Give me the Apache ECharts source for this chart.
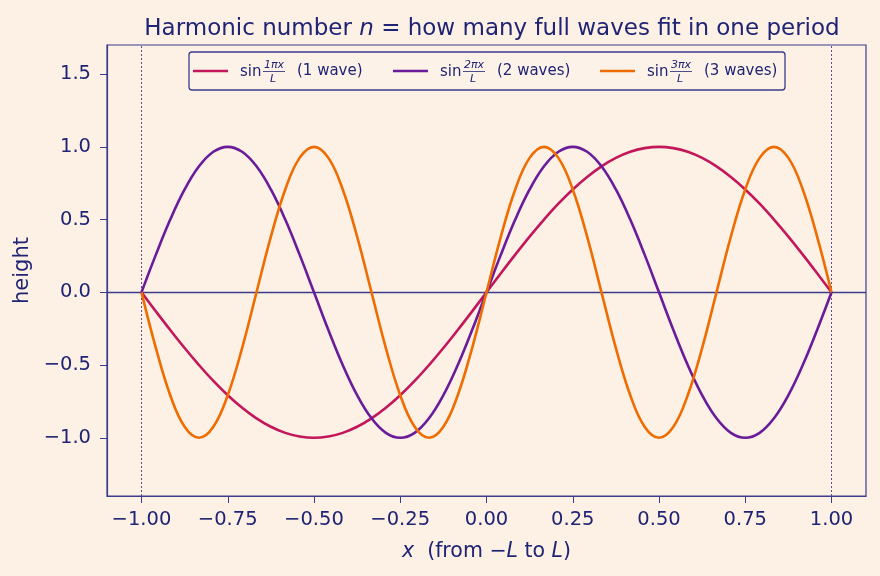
<!DOCTYPE html>
<html>
<head>
<meta charset="utf-8">
<script src="https://cdn.jsdelivr.net/npm/echarts@6/dist/echarts.min.js"></script>
<style>
  html, body { margin: 0; padding: 0; background: #fdf0e4; }
  #chart-container { width: 880px; height: 576px; }
</style>
</head>
<body>
<div id="chart-container"></div>
<script>
var dom = document.getElementById("chart-container");
var myChart = echarts.init(dom, null, { renderer: "canvas" });

// sample positions x (in units of L)
const xs = [
  -1, -0.9583, -0.9167, -0.875, -0.8333, -0.7917, -0.75, -0.7083, -0.6667, -0.625,
  -0.5833, -0.5417, -0.5, -0.4583, -0.4167, -0.375, -0.3333, -0.2917, -0.25, -0.2083,
  -0.1667, -0.125, -0.0833, -0.0417, 0, 0.0417, 0.0833, 0.125, 0.1667, 0.2083,
  0.25, 0.2917, 0.3333, 0.375, 0.4167, 0.4583, 0.5, 0.5417, 0.5833, 0.625,
  0.6667, 0.7083, 0.75, 0.7917, 0.8333, 0.875, 0.9167, 0.9583, 1,
];

const wave1 = [
  0, -0.131, -0.259, -0.383, -0.5, -0.609, -0.707, -0.793, -0.866, -0.924,
  -0.966, -0.991, -1, -0.991, -0.966, -0.924, -0.866, -0.793, -0.707, -0.609,
  -0.5, -0.383, -0.259, -0.131, 0, 0.131, 0.259, 0.383, 0.5, 0.609,
  0.707, 0.793, 0.866, 0.924, 0.966, 0.991, 1, 0.991, 0.966, 0.924,
  0.866, 0.793, 0.707, 0.609, 0.5, 0.383, 0.259, 0.131, 0,
];

const wave2 = [
  0, 0.259, 0.5, 0.707, 0.866, 0.966, 1, 0.966, 0.866, 0.707,
  0.5, 0.259, 0, -0.259, -0.5, -0.707, -0.866, -0.966, -1, -0.966,
  -0.866, -0.707, -0.5, -0.259, 0, 0.259, 0.5, 0.707, 0.866, 0.966,
  1, 0.966, 0.866, 0.707, 0.5, 0.259, 0, -0.259, -0.5, -0.707,
  -0.866, -0.966, -1, -0.966, -0.866, -0.707, -0.5, -0.259, 0,
];

const wave3 = [
  0, -0.383, -0.707, -0.924, -1, -0.924, -0.707, -0.383, 0, 0.383,
  0.707, 0.924, 1, 0.924, 0.707, 0.383, 0, -0.383, -0.707, -0.924,
  -1, -0.924, -0.707, -0.383, 0, 0.383, 0.707, 0.924, 1, 0.924,
  0.707, 0.383, 0, -0.383, -0.707, -0.924, -1, -0.924, -0.707, -0.383,
  0, 0.383, 0.707, 0.924, 1, 0.924, 0.707, 0.383, 0,
];

const harmonics = ["1", "2", "3"];
const waveLabels = ["(1 wave)", "(2 waves)", "(3 waves)"];
const xTicks = [-1, -0.75, -0.5, -0.25, 0, 0.25, 0.5, 0.75, 1];
const yTicks = [-1, -0.5, 0, 0.5, 1, 1.5];

const colors = ["#c2185b", "#6a1b9a", "#ef6c00"];
const ink = "#1f2474";
const spine = "#3b3d8c";
const font = "DejaVu Sans";

const allWaves = [wave1, wave2, wave3];

function fmtNum(v, d) {
  return v.toFixed(d).replace("-", "\u2212");
}

// hand-built legend with stacked fractions
const legendStarts = [193, 393, 600];
const legendY = 71;
const legendItems = [
  {
    type: "rect",
    z: 100,
    shape: { x: 189, y: 52, width: 596, height: 38, r: 3 },
    style: { fill: "rgba(253,242,232,0.8)", stroke: spine, lineWidth: 1.3 },
  },
];
harmonics.forEach(function (n, i) {
  const x0 = legendStarts[i];
  legendItems.push(
    {
      type: "line",
      shape: { x1: x0, y1: legendY, x2: x0 + 35, y2: legendY },
      style: { stroke: colors[i], lineWidth: 2.6 },
    },
    {
      type: "text",
      style: {
        x: x0 + 47, y: legendY + 1, text: "sin",
        font: "15px " + font, fill: ink, verticalAlign: "middle",
      },
    },
    {
      type: "text",
      style: {
        x: x0 + 81, y: legendY - 5.5, text: n + "\u03c0x",
        font: "italic 11px " + font, fill: ink,
        align: "center", verticalAlign: "middle",
      },
    },
    {
      type: "line",
      shape: { x1: x0 + 70, y1: legendY + 0.5, x2: x0 + 92, y2: legendY + 0.5 },
      style: { stroke: ink, lineWidth: 0.8 },
    },
    {
      type: "text",
      style: {
        x: x0 + 80, y: legendY + 8.5, text: "L",
        font: "italic 11px " + font, fill: ink,
        align: "center", verticalAlign: "middle",
      },
    },
    {
      type: "text",
      style: {
        x: x0 + 104, y: legendY, text: waveLabels[i],
        font: "15px " + font, fill: ink, verticalAlign: "middle",
      },
    }
  );
});
legendItems.forEach(function (el, k) {
  if (k > 0) el.z = 101;
});

const series = allWaves.map(function (w, i) {
  return {
    name: "n=" + harmonics[i],
    type: "line",
    data: xs.map(function (x, k) { return [x, w[k]]; }),
    smooth: 0.4,
    symbol: "none",
    z: 3,
    lineStyle: { color: colors[i], width: 2.6 },
  };
});

series[0].markLine = {
  silent: true,
  symbol: "none",
  label: { show: false },
  z: 2,
  data: [
    { xAxis: -1, lineStyle: { color: "#5b4d8f", type: [2, 2], width: 1 } },
    { xAxis: 1, lineStyle: { color: "#5b4d8f", type: [2, 2], width: 1 } },
    { yAxis: 0, lineStyle: { color: spine, type: "solid", width: 1.3 } },
  ],
};

var option = {
  backgroundColor: "#fdf0e4",
  animation: false,
  textStyle: { fontFamily: font },
  title: {
    text: "Harmonic number {i|n} = how many full waves fit in one period",
    left: 487,
    top: 13,
    textAlign: "center",
    textStyle: {
      color: ink,
      fontSize: 23,
      fontWeight: "normal",
      fontFamily: font,
      rich: {
        i: { fontStyle: "italic", fontSize: 23, color: ink, fontFamily: font },
      },
    },
  },
  grid: {
    left: 107,
    right: 14,
    top: 45,
    bottom: 80,
    show: true,
    borderColor: spine,
    borderWidth: 1.2,
    backgroundColor: "transparent",
  },
  xAxis: {
    type: "value",
    min: -1.1,
    max: 1.1,
    name: "{i|x}  (from \u2212{i|L} to {i|L})",
    nameLocation: "middle",
    nameGap: 45,
    nameTextStyle: {
      color: ink,
      fontSize: 20.5,
      fontFamily: font,
      rich: { i: { fontStyle: "italic", fontSize: 20.5, color: ink, fontFamily: font } },
    },
    axisLine: { show: true, onZero: false, lineStyle: { color: spine, width: 1.2 } },
    axisTick: { show: true, length: 7, customValues: xTicks, lineStyle: { color: spine } },
    axisLabel: {
      customValues: xTicks,
      color: ink,
      fontSize: 19.5,
      margin: 14,
      formatter: function (v) { return fmtNum(v, 2); },
    },
    splitLine: { show: false },
  },
  yAxis: {
    type: "value",
    min: -1.4,
    max: 1.7,
    name: "height",
    nameLocation: "middle",
    nameGap: 71,
    nameTextStyle: { color: ink, fontSize: 21, fontFamily: font },
    axisLine: { show: true, onZero: false, lineStyle: { color: spine, width: 1.2 } },
    axisTick: { show: true, length: 7, customValues: yTicks, lineStyle: { color: spine } },
    axisLabel: {
      customValues: yTicks,
      color: ink,
      fontSize: 19.5,
      margin: 16,
      formatter: function (v) { return fmtNum(v, 1); },
    },
    splitLine: { show: false },
  },
  graphic: legendItems,
  series: series,
};

myChart.setOption(option);
window.addEventListener("resize", myChart.resize);
</script>
</body>
</html>
